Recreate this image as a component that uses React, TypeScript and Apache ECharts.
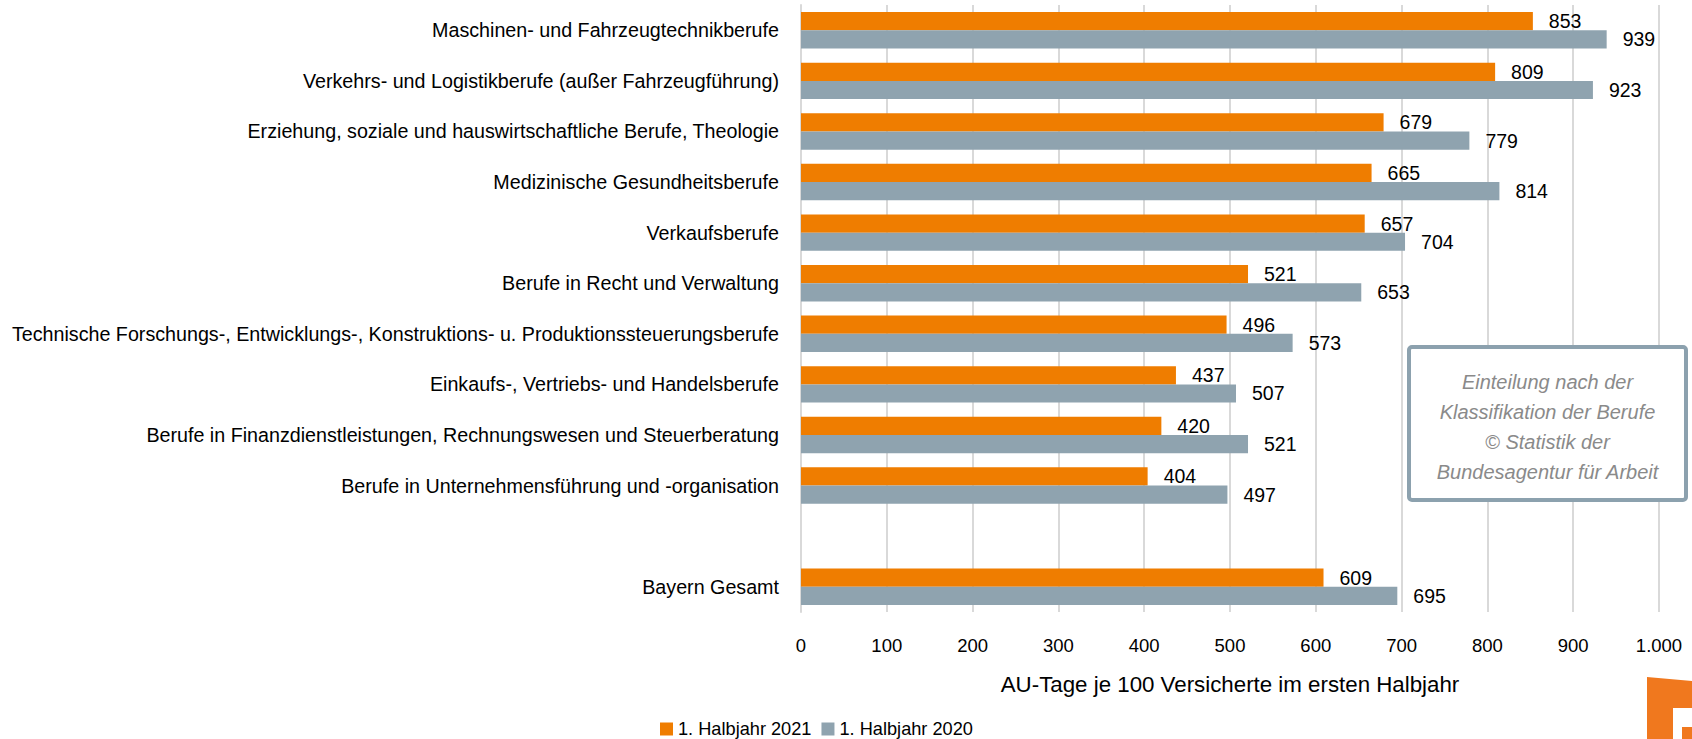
import React, { useEffect, useRef } from "react";
import * as echarts from "echarts";

const categories = [
  "Maschinen- und Fahrzeugtechnikberufe",
  "Verkehrs- und Logistikberufe (außer Fahrzeugführung)",
  "Erziehung, soziale und hauswirtschaftliche Berufe, Theologie",
  "Medizinische Gesundheitsberufe",
  "Verkaufsberufe",
  "Berufe in Recht und Verwaltung",
  "Technische Forschungs-, Entwicklungs-, Konstruktions- u. Produktionssteuerungsberufe",
  "Einkaufs-, Vertriebs- und Handelsberufe",
  "Berufe in Finanzdienstleistungen, Rechnungswesen und Steuerberatung",
  "Berufe in Unternehmensführung und -organisation",
  "",
  "Bayern Gesamt",
];
const series2021 = [853, 809, 679, 665, 657, 521, 496, 437, 420, 404, null, 609];
const series2020 = [939, 923, 779, 814, 704, 653, 573, 507, 521, 497, null, 695];
const seriesNames = ["1. Halbjahr 2021", "1. Halbjahr 2020"];
const axisTitle = "AU-Tage je 100 Versicherte im ersten Halbjahr";
const noteLines = [
  "Einteilung nach der",
  "Klassifikation der Berufe",
  "© Statistik der",
  "Bundesagentur für Arbeit",
];

const FONT = "'Liberation Sans', Arial, sans-serif";
const ORANGE = "#EF7D00";
const GRAY = "#8FA3AF";

export default function App() {
  const ref = useRef<HTMLDivElement>(null);
  useEffect(() => {
    document.body.style.margin = "0";
    const chart = echarts.init(ref.current!, null, { renderer: "svg" });
    const labelCfg = (dist: number) => ({
      show: true,
      position: "right",
      distance: dist,
      color: "#000",
      fontFamily: FONT,
      fontSize: 19.5,
    });
    chart.setOption({
      animation: false,
      textStyle: { fontFamily: FONT },
      grid: {
        left: 801,
        top: 5,
        width: 858,
        height: 607,
        containLabel: false,
        outerBoundsMode: "none",
      },
      xAxis: {
        type: "value",
        min: 0,
        max: 1000,
        interval: 100,
        axisLine: { show: false },
        axisTick: { show: false },
        splitLine: { show: true, lineStyle: { color: "#D9D9D9", width: 2 } },
        axisLabel: {
          color: "#000",
          fontFamily: FONT,
          fontSize: 18.5,
          margin: 24,
          formatter: (v: number) => (v >= 1000 ? String(v).replace(/(\d)(\d{3})$/, "$1.$2") : String(v)),
        },
        name: axisTitle,
        nameLocation: "middle",
        nameGap: 61,
        nameTextStyle: { color: "#000", fontFamily: FONT, fontSize: 22.3 },
      },
      yAxis: {
        type: "category",
        inverse: true,
        data: categories,
        axisLine: { show: true, lineStyle: { color: "#D9D9D9", width: 2 } },
        axisTick: { show: false },
        axisLabel: { color: "#000", fontFamily: FONT, fontSize: 19.7, margin: 22 },
      },
      legend: {
        left: 660,
        top: 720,
        padding: 0,
        icon: "rect",
        itemWidth: 13,
        itemHeight: 13,
        itemGap: 10,
        textStyle: { color: "#000", fontFamily: FONT, fontSize: 18.2 },
        data: seriesNames,
      },
      series: [
        {
          name: seriesNames[0],
          type: "bar",
          data: series2021,
          itemStyle: { color: ORANGE },
          barGap: "0%",
          barCategoryGap: "28%",
          label: labelCfg(16),
        },
        {
          name: seriesNames[1],
          type: "bar",
          data: series2020,
          itemStyle: { color: GRAY },
          barGap: "0%",
          barCategoryGap: "28%",
          label: labelCfg(16),
        },
      ],
      graphic: [
        {
          type: "rect",
          shape: { x: 1409, y: 347, width: 277, height: 153, r: 3 },
          style: { fill: "#fff", stroke: "#8CA1AE", lineWidth: 4 },
          z: 100,
        },
        ...noteLines.map((t, i) => ({
          type: "text",
          x: 1547.5,
          y: 382 + i * 30,
          z: 101,
          style: {
            text: t,
            fill: "#8A8A8A",
            font: `italic 20px ${FONT}`,
            align: "center",
            verticalAlign: "middle",
          },
        })),
        {
          type: "polygon",
          shape: { points: [[1647, 677], [1692, 681], [1692, 739], [1647, 739]] },
          style: { fill: "#F0781E" },
          z: 100,
        },
        {
          type: "rect",
          shape: { x: 1673, y: 708, width: 19, height: 19 },
          style: { fill: "#fff" },
          z: 101,
        },
        {
          type: "rect",
          shape: { x: 1673, y: 727, width: 9, height: 12 },
          style: { fill: "#fff" },
          z: 101,
        },
      ],
    });
    return () => chart.dispose();
  }, []);
  return <div ref={ref} style={{ width: 1692, height: 739 }} />;
}
